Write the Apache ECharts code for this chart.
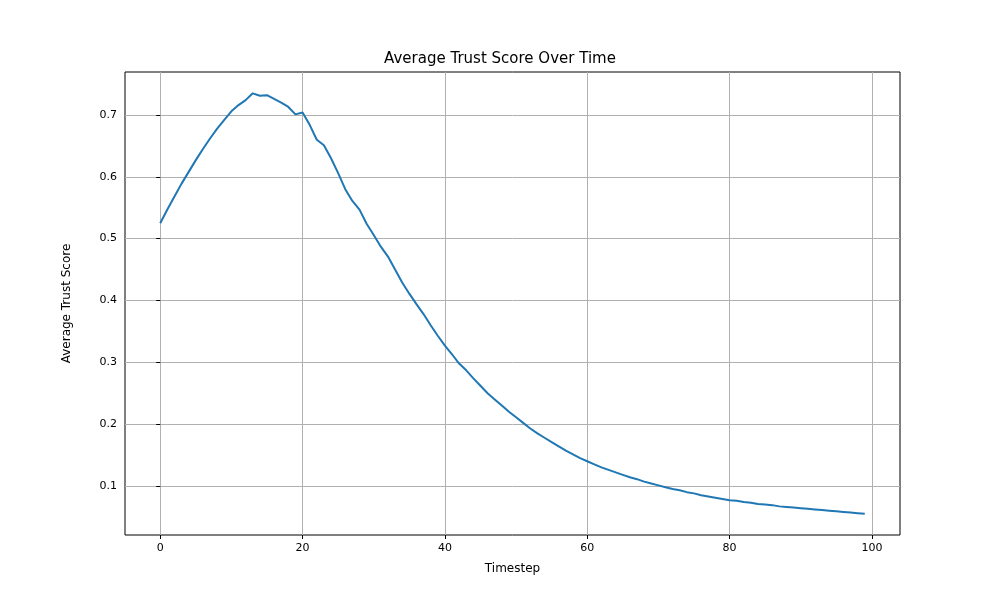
<!DOCTYPE html>
<html>
<head>
<meta charset="utf-8">
<script src="https://cdn.jsdelivr.net/npm/echarts@6/dist/echarts.min.js"></script>
</head>
<body style="margin:0;background:#fff">
<div id="main" style="width:1000px;height:600px"></div>
<script>
var trust = [0.525,0.547,0.568,0.589,0.608,0.627,0.645,0.662,0.678,0.692,
  0.706,0.716,0.724,0.735,0.731,0.732,0.726,0.720,0.713,0.701,
  0.704,0.684,0.660,0.651,0.630,0.606,0.580,0.561,0.547,0.524,
  0.506,0.487,0.471,0.450,0.429,0.411,0.394,0.378,0.360,0.343,
  0.327,0.313,0.298,0.287,0.274,0.262,0.250,0.240,0.230,0.220,
  0.211,0.202,0.193,0.185,0.178,0.171,0.164,0.157,0.151,0.145,
  0.140,0.135,0.130,0.126,0.122,0.118,0.114,0.111,0.107,0.104,
  0.101,0.098,0.095,0.093,0.090,0.088,0.085,0.083,0.081,0.079,
  0.077,0.076,0.074,0.073,0.071,0.070,0.069,0.067,0.066,0.065,
  0.064,0.063,0.062,0.061,0.060,0.059,0.058,0.057,0.056,0.055];
var xTicks = [0, 20, 40, 60, 80, 100];
var yTicks = [0.1, 0.2, 0.3, 0.4, 0.5, 0.6, 0.7];

var chart = echarts.init(document.getElementById('main'));
var font = 'DejaVu Sans';
var grey = '#b0b0b0';
chart.setOption({
  animation: false,
  title: {
    text: 'Average Trust Score Over Time', left: 'center', top: 47,
    textStyle: { fontFamily: font, fontSize: 15, fontWeight: 'normal', color: '#000' }
  },
  grid: { left: 125, right: 100, top: 72, bottom: 65, show: true, borderColor: '#000', borderWidth: 1 },
  xAxis: {
    type: 'value', min: -4.95, max: 103.95,
    name: 'Timestep', nameLocation: 'middle', nameGap: 28,
    nameTextStyle: { fontFamily: font, fontSize: 12, color: '#000' },
    axisLine: { show: false },
    axisTick: { show: true, customValues: xTicks, length: 4, lineStyle: { color: '#000' } },
    axisLabel: { customValues: xTicks, fontFamily: font, fontSize: 11, color: '#000', margin: 8 },
    splitLine: { show: true, lineStyle: { color: grey, width: 1 } }
  },
  yAxis: {
    type: 'value', min: 0.0207, max: 0.7695,
    name: 'Average Trust Score', nameLocation: 'middle', nameGap: 52,
    nameTextStyle: { fontFamily: font, fontSize: 12, color: '#000' },
    axisLine: { show: false },
    axisTick: { show: true, customValues: yTicks, length: 4, lineStyle: { color: '#000' } },
    axisLabel: { customValues: yTicks, fontFamily: font, fontSize: 11, color: '#000', margin: 8 },
    splitLine: { show: true, lineStyle: { color: grey, width: 1 } }
  },
  series: [{
    type: 'line', symbol: 'none',
    data: trust.map(function (v, i) { return [i, v]; }),
    lineStyle: { color: '#1f77b4', width: 2 }
  }]
});
</script>
</body>
</html>
